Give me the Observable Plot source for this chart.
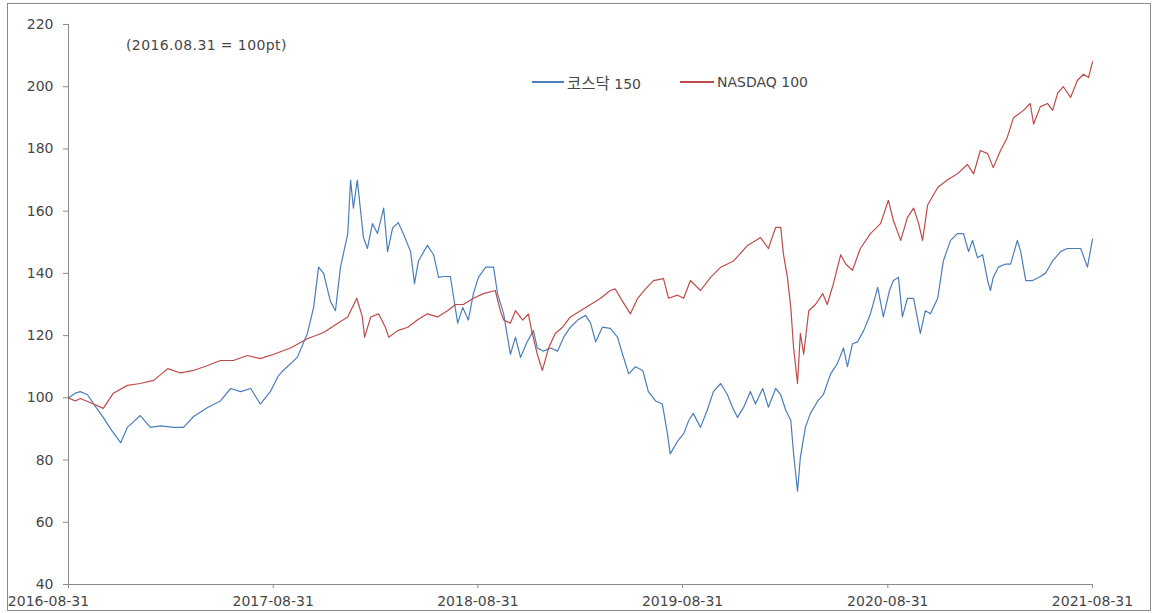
<!DOCTYPE html>
<html>
<head>
<meta charset="utf-8">
<script src="https://cdn.jsdelivr.net/npm/d3@7"></script>
<script src="https://cdn.jsdelivr.net/npm/@observablehq/plot@0.6"></script>
<style>
  html, body { margin: 0; padding: 0; background: #fff; }
  #wrap { position: relative; width: 1154px; height: 613px; overflow: hidden; }
  #frame { position: absolute; left: 7px; top: 3px; width: 1144px; height: 608px; border: 1px solid #8a8a8a; box-sizing: border-box; pointer-events: none; }
  .note { position: absolute; font-family: "DejaVu Sans", "Noto Sans CJK KR", sans-serif; font-size: 14px; color: #474747; line-height: 16px; white-space: pre; }
  .ko { font-family: "Noto Sans CJK KR", sans-serif; font-size: 15.5px; }
  .sw { position: absolute; height: 1.5px; }
</style>
</head>
<body>
<div id="wrap">
  <div id="chart"></div>
  <div class="note" style="left:126px; top:37px; letter-spacing:0.4px;">(2016.08.31 = 100pt)</div>
  <div class="sw" style="left:532px; top:81px; width:32px; background:#4a7ebb;"></div>
  <div class="note" style="left:567px; top:74px;"><span class="ko">코스닥</span> 150</div>
  <div class="sw" style="left:680px; top:81px; width:34px; background:#be4b48;"></div>
  <div class="note" style="left:717px; top:74px;">NASDAQ 100</div>
  <div id="frame"></div>
</div>
<script>
const seriesNames = ["코스닥 150", "NASDAQ 100"];
const yTicks = [40, 60, 80, 100, 120, 140, 160, 180, 200, 220];
const xTickLabels = ["2016-08-31", "2017-08-31", "2018-08-31", "2019-08-31", "2020-08-31", "2021-08-31"];

const kosdaqDates = ["2016-08-31","2016-09-12","2016-09-21","2016-10-04","2016-10-15","2016-11-01","2016-11-14","2016-12-02","2016-12-14","2017-01-06","2017-01-24","2017-02-11","2017-03-06","2017-03-24","2017-04-11","2017-05-06","2017-05-29","2017-06-16","2017-07-04","2017-07-22","2017-08-08","2017-08-26","2017-09-09","2017-09-18","2017-10-13","2017-10-31","2017-11-11","2017-11-20","2017-11-29","2017-12-11","2017-12-20","2017-12-29","2018-01-11","2018-01-16","2018-01-21","2018-01-28","2018-02-08","2018-02-15","2018-02-24","2018-03-05","2018-03-16","2018-03-23","2018-04-01","2018-04-11","2018-04-20","2018-05-03","2018-05-10","2018-05-17","2018-06-02","2018-06-13","2018-06-22","2018-07-01","2018-07-13","2018-07-19","2018-07-26","2018-08-04","2018-08-14","2018-08-23","2018-09-01","2018-09-14","2018-09-28","2018-10-05","2018-10-16","2018-10-28","2018-11-06","2018-11-15","2018-11-27","2018-12-08","2018-12-15","2018-12-26","2019-01-08","2019-01-20","2019-01-31","2019-02-12","2019-02-25","2019-03-11","2019-03-20","2019-03-29","2019-04-10","2019-04-24","2019-05-07","2019-05-16","2019-05-27","2019-06-08","2019-06-21","2019-07-01","2019-07-14","2019-07-26","2019-08-04","2019-08-09","2019-08-22","2019-09-02","2019-09-11","2019-09-19","2019-10-02","2019-10-14","2019-10-25","2019-11-07","2019-11-19","2019-11-28","2019-12-07","2019-12-18","2019-12-30","2020-01-08","2020-01-21","2020-01-31","2020-02-13","2020-02-22","2020-03-02","2020-03-11","2020-03-16","2020-03-23","2020-03-28","2020-04-06","2020-04-15","2020-04-28","2020-05-08","2020-05-21","2020-06-02","2020-06-13","2020-06-20","2020-06-29","2020-07-08","2020-07-19","2020-07-31","2020-08-13","2020-08-23","2020-09-03","2020-09-10","2020-09-19","2020-09-26","2020-10-05","2020-10-16","2020-10-28","2020-11-06","2020-11-15","2020-11-28","2020-12-08","2020-12-21","2021-01-02","2021-01-13","2021-01-22","2021-01-29","2021-02-07","2021-02-16","2021-02-25","2021-03-02","2021-03-07","2021-03-16","2021-03-29","2021-04-07","2021-04-19","2021-04-25","2021-05-04","2021-05-16","2021-05-27","2021-06-08","2021-06-21","2021-07-05","2021-07-17","2021-07-28","2021-08-10","2021-08-22","2021-08-31"];
const kosdaqValues = [100,101.5,102,101,98,93.7,90,85.6,90.5,94.3,90.5,91,90.5,90.5,94,96.9,99,103,102,103,98,102,107,108.8,113,120.7,129,142,140,131,128,142,152.8,170,161,170,151.5,148,156,152.8,161,147,154.6,156.3,152.8,147,136.7,144,149,146,138.7,139,139,132,124,129,125,133.5,138.7,142,142,133.5,127,114,119.5,113,118,121.6,116,115,116,115,119.5,122.7,125,126.5,124,118,122.7,122.3,119.5,114,107.7,110,108.8,102,99,98,88.5,82,86,88.5,92.7,95,90.5,96,102,104.6,101,97,93.7,97,102,98,103,97,103,101,96,92.7,82,70,80.8,90.5,95,99,101,107.7,111,116,110,117.4,118,121.6,127,135.5,126,134.5,137.7,138.7,126,132,132,120.7,128,127,132,144,150.6,152.8,152.8,147,150.6,145,146,137.7,134.5,138.7,142,143,143,150.6,147,137.7,137.7,138.7,140,144,147,148,148,148,142,151];

const nasdaqDates = ["2016-08-31","2016-09-12","2016-09-21","2016-10-15","2016-11-01","2016-11-19","2016-12-14","2017-01-06","2017-01-30","2017-02-24","2017-03-19","2017-04-11","2017-05-06","2017-05-29","2017-06-21","2017-07-16","2017-08-08","2017-09-01","2017-10-01","2017-10-31","2017-11-29","2017-12-24","2018-01-11","2018-01-27","2018-02-06","2018-02-10","2018-02-21","2018-03-07","2018-03-19","2018-03-25","2018-04-10","2018-04-28","2018-05-15","2018-06-02","2018-06-20","2018-07-08","2018-07-22","2018-08-05","2018-08-23","2018-09-10","2018-10-01","2018-10-10","2018-10-16","2018-10-28","2018-11-06","2018-11-19","2018-11-29","2018-12-06","2018-12-15","2018-12-24","2019-01-04","2019-01-16","2019-01-29","2019-02-12","2019-03-02","2019-03-20","2019-04-07","2019-04-24","2019-05-03","2019-05-16","2019-05-30","2019-06-12","2019-06-26","2019-07-10","2019-07-28","2019-08-06","2019-08-22","2019-09-02","2019-09-14","2019-10-02","2019-10-20","2019-11-07","2019-11-30","2019-12-25","2020-01-17","2020-01-31","2020-02-13","2020-02-22","2020-02-27","2020-03-05","2020-03-11","2020-03-16","2020-03-23","2020-03-28","2020-04-03","2020-04-12","2020-04-24","2020-05-07","2020-05-15","2020-05-26","2020-06-08","2020-06-17","2020-06-29","2020-07-13","2020-07-31","2020-08-18","2020-09-01","2020-09-10","2020-09-23","2020-10-05","2020-10-16","2020-10-25","2020-11-01","2020-11-10","2020-11-28","2020-12-15","2021-01-02","2021-01-20","2021-01-31","2021-02-12","2021-02-25","2021-03-07","2021-03-20","2021-04-01","2021-04-12","2021-04-30","2021-05-12","2021-05-18","2021-05-30","2021-06-12","2021-06-21","2021-06-30","2021-07-10","2021-07-23","2021-08-04","2021-08-15","2021-08-24","2021-08-31"];
const nasdaqValues = [100,99,99.8,98,96.6,101.5,104,104.6,105.6,109.4,108,108.8,110.4,112,112,113.6,112.6,114,116,119,121,124,126,132,126,119.5,126,127,122.7,119.5,121.6,122.7,125,127,126,128,130,130,132,133.5,134.5,128,125,124,128,125,127,120.7,114,108.8,116,120.7,122.7,126,128,130,132,134.5,135,131,127,132,135,137.7,138.3,132,133,132,137.7,134.5,138.7,142,144,149,151.5,148,154.8,154.8,146,138.7,129,116,104.6,120.7,114,128,130,133.5,130,136.7,146,143,141,148,152.8,156,163.5,157,150.6,158,161,156,150.6,162,167.6,170,172,175,172,179.5,178.5,174,179.5,183.7,190,192.4,194.6,188,193.6,194.6,192.4,198,200,196.6,202,204,203,208];

const parse = d3.utcParse("%Y-%m-%d");
const kosdaq = kosdaqDates.map((d, i) => ({date: parse(d), value: kosdaqValues[i], series: seriesNames[0]}));
const nasdaq = nasdaqDates.map((d, i) => ({date: parse(d), value: nasdaqValues[i], series: seriesNames[1]}));
const xTicks = xTickLabels.map(parse);
const fmt = d3.utcFormat("%Y-%m-%d");

const chart = Plot.plot({
  width: 1154,
  height: 613,
  marginLeft: 68,
  marginRight: 62,
  marginTop: 24,
  marginBottom: 29,
  style: {fontFamily: "DejaVu Sans, sans-serif", fontSize: "14px", color: "#474747", background: "transparent", overflow: "visible"},
  x: {type: "utc", domain: [xTicks[0], xTicks[xTicks.length - 1]]},
  y: {domain: [40, 220]},
  marks: [
    Plot.ruleX([xTicks[0]], {stroke: "#8a8a8a"}),
    Plot.ruleY([40], {stroke: "#8a8a8a"}),
    Plot.axisY({ticks: yTicks, tickSize: 5, tickPadding: 10, stroke: "#8a8a8a", fill: "#474747", label: null}),
    Plot.axisX({ticks: xTicks, tickSize: 4, stroke: "#8a8a8a", tickFormat: () => "", label: null}),
    Plot.text(xTicks.slice(0, 1), {x: d => d, frameAnchor: "bottom", dy: 21, dx: -20, text: d => fmt(d), fill: "#474747"}),
    Plot.text(xTicks.slice(1), {x: d => d, frameAnchor: "bottom", dy: 21, text: d => fmt(d), fill: "#474747"}),
    Plot.line(kosdaq, {x: "date", y: "value", stroke: "#4a7ebb", strokeWidth: 1.2}),
    Plot.line(nasdaq, {x: "date", y: "value", stroke: "#be4b48", strokeWidth: 1.2})
  ]
});
document.getElementById("chart").appendChild(chart);
</script>
</body>
</html>
